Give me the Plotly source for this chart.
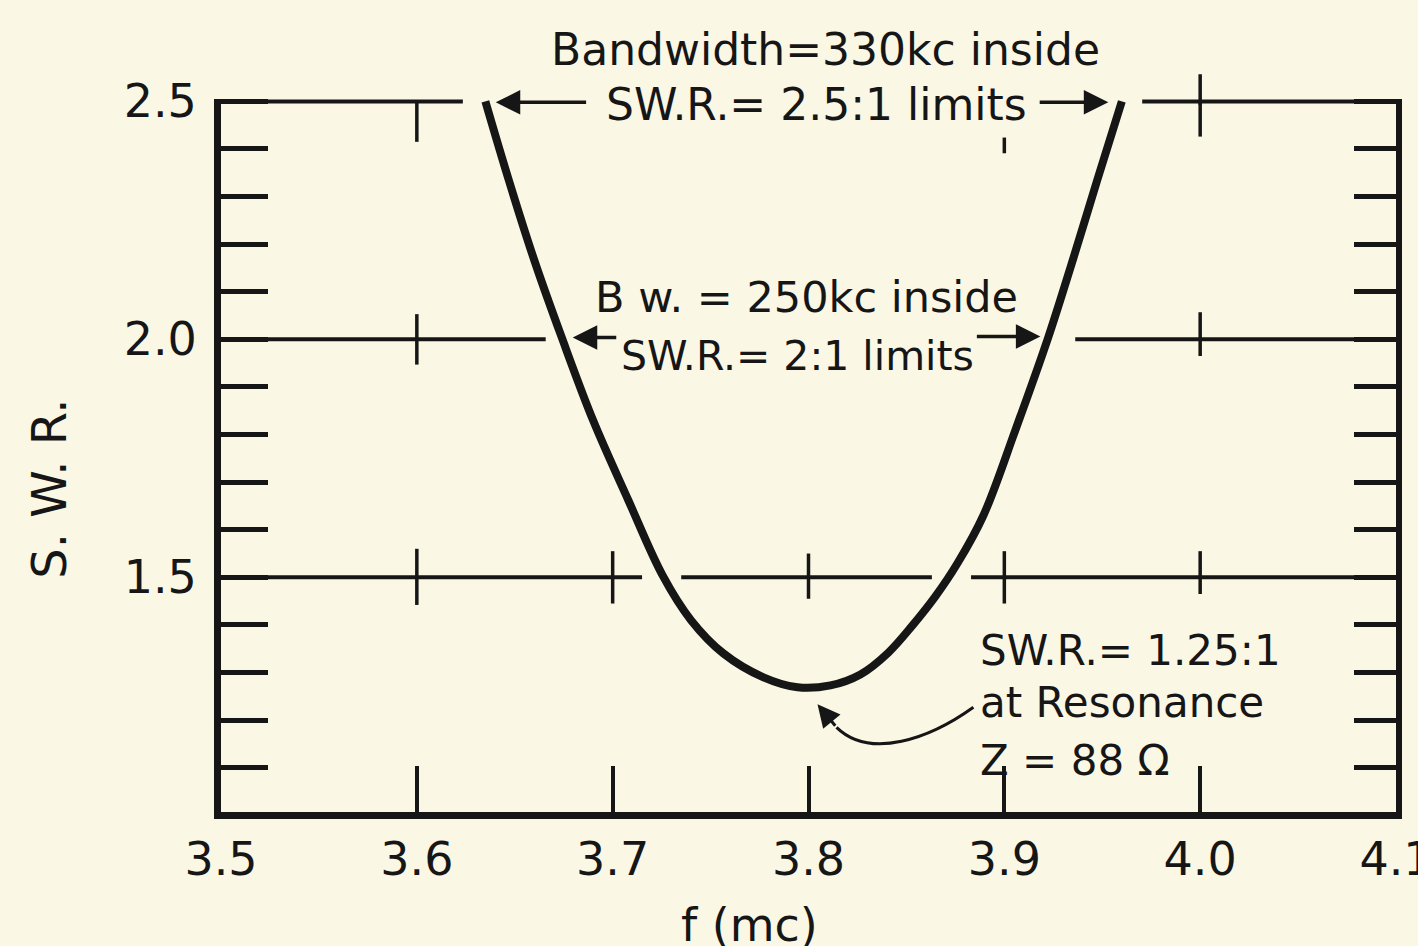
import plotly.graph_objects as go

# ---- data ----
freq_mc = [3.635, 3.647, 3.660, 3.674, 3.690, 3.708, 3.7255, 3.740, 3.7566, 3.777, 3.7944,
           3.8112, 3.8265, 3.8408, 3.8531, 3.8648, 3.876, 3.8893, 3.9056, 3.9224, 3.9352,
           3.9474, 3.960]
swr = [2.50, 2.334, 2.166, 2.004, 1.830, 1.662, 1.504, 1.410, 1.340, 1.290, 1.269,
       1.273, 1.296, 1.342, 1.399, 1.460, 1.529, 1.630, 1.809, 2.004, 2.170,
       2.334, 2.50]

x_tick_vals = [3.5, 3.6, 3.7, 3.8, 3.9, 4.0, 4.1]
x_tick_text = ["3.5", "3.6", "3.7", "3.8", "3.9", "4.0", "4.1"]
y_tick_vals = [1.0, 1.1, 1.2, 1.3, 1.4, 1.5, 1.6, 1.7, 1.8, 1.9,
               2.0, 2.1, 2.2, 2.3, 2.4, 2.5]
y_tick_text = ["1.0", "", "", "", "", "1.5", "", "", "", "",
               "2.0", "", "", "", "", "2.5"]

INK = "#161616"
PAPER = "#fbf7e5"
FONT = "DejaVu Sans"

fig = go.Figure()
fig.add_trace(go.Scatter(x=freq_mc, y=swr, mode="lines",
                         line=dict(color=INK, width=8, shape="spline", smoothing=1.0),
                         hoverinfo="skip", showlegend=False))
# empty trace to register the right-hand axis
fig.add_trace(go.Scatter(x=[], y=[], yaxis="y2", showlegend=False, hoverinfo="skip"))

shapes = []
# horizontal grid lines, broken where curve / lettering cross them
grid_segments = [
    (2.5, 3.5056, 3.6235), (2.5, 3.9704, 4.1),
    (2.0, 3.5, 3.6658), (2.0, 3.9362, 4.1),
    (1.5, 3.5, 3.7150), (1.5, 3.7350, 3.8630), (1.5, 3.8830, 4.1),
]
for yv, x0, x1 in grid_segments:
    shapes.append(dict(type="line", xref="x", yref="y", x0=x0, x1=x1, y0=yv, y1=yv,
                       line=dict(color=INK, width=4), layer="below"))
# small cross ticks on the grid lines (x, y, up, down)
cross_ticks = [
    (3.6, 2.5, 0.0, 0.085), (4.0, 2.5, 0.0, 0.074), (3.9, 2.5, -0.076, 0.109),
    (3.6, 2.0, 0.053, 0.053), (4.0, 2.0, 0.057, 0.035),
    (3.6, 1.5, 0.06, 0.058), (3.7, 1.5, 0.055, 0.055), (3.8, 1.5, 0.05, 0.045),
    (3.9, 1.5, 0.055, 0.055), (4.0, 1.5, 0.055, 0.035),
]
for xv, yv, up, dn in cross_ticks:
    shapes.append(dict(type="line", xref="x", yref="y", x0=xv, x1=xv, y0=yv - dn, y1=yv + up,
                       line=dict(color=INK, width=3.5), layer="below"))
# curved leader to the resonance point
shapes.append(dict(type="path", xref="x", yref="y",
                   path="M 3.8842 1.2269 C 3.8622 1.1618, 3.8316 1.1155, 3.8143 1.1849",
                   line=dict(color=INK, width=3)))

annotations = []
def txt(text, x, y, xanchor="center", yref="y", size=44):
    annotations.append(dict(text=text, x=x, y=y, xref="x", yref=yref, showarrow=False,
                            xanchor=xanchor, yanchor="middle",
                            font=dict(family=FONT, size=size, color=INK)))

txt("Bandwidth=330kc inside", 3.8087, 1.069, yref="paper")
txt("SW.R.= 2.5:1 limits", 3.8041, 2.494)
txt("B w. = 250kc inside", 3.7990, 2.090, size=43)
txt("SW.R.= 2:1 limits", 3.7945, 1.966, size=41)
txt("SW.R.= 1.25:1", 3.8867, 1.347, xanchor="left", size=42)
txt("at Resonance", 3.8867, 1.237, xanchor="left", size=42)
txt("Z = 88 Ω", 3.8867, 1.116, xanchor="left", size=42)

def arrow(x_tip, y_tip, x_tail, y_tail, head=2, size=1.4, width=3.5):
    annotations.append(dict(text="", x=x_tip, y=y_tip, ax=x_tail, ay=y_tail,
                            xref="x", yref="y", axref="x", ayref="y",
                            showarrow=True, arrowhead=head, arrowsize=size,
                            arrowwidth=width, arrowcolor=INK, standoff=0))

arrow(3.6403, 2.498, 3.6872, 2.498)
arrow(3.9531, 2.498, 3.9173, 2.498)
arrow(3.6796, 2.004, 3.7026, 2.004)
arrow(3.9184, 2.006, 3.8852, 2.006)
arrow(3.8046, 1.2332, 3.8143, 1.1849, size=1.5, width=3)
# upper part of the 4.0 tick on the top line (outside plot area)
arrow(4.0, 2.557, 4.0, 2.49, head=0, width=3.5)

# axis titles
annotations.append(dict(text="S. W. R.", x=-0.146, y=1.687, xref="paper", yref="y",
                        textangle=-90, showarrow=False, xanchor="center", yanchor="middle",
                        font=dict(family=FONT, size=48, color=INK)))
annotations.append(dict(text="f (mc)", x=3.770, y=-0.158, xref="x", yref="paper",
                        showarrow=False, xanchor="center", yanchor="middle",
                        font=dict(family=FONT, size=46, color=INK)))

fig.update_layout(
    width=1418, height=946,
    template="none",
    paper_bgcolor=PAPER, plot_bgcolor=PAPER,
    margin=dict(l=221, r=22, t=99, b=134),
    showlegend=False,
    shapes=shapes,
    annotations=annotations,
    xaxis=dict(range=[3.5, 4.1], tickvals=x_tick_vals, ticktext=x_tick_text,
               ticks="inside", ticklen=46, tickwidth=4, tickcolor=INK,
               showline=True, linewidth=7, linecolor=INK, mirror=False,
               showgrid=False, zeroline=False, automargin=False,
               ticklabelstandoff=1, ticklabeloverflow="allow",
               tickfont=dict(family=FONT, size=46, color=INK)),
    yaxis=dict(range=[1.007, 2.505], tickvals=y_tick_vals, ticktext=y_tick_text,
               ticks="inside", ticklen=47, tickwidth=4.5, tickcolor=INK,
               showline=True, linewidth=7, linecolor=INK, mirror=False,
               showgrid=False, zeroline=False, automargin=False,
               ticklabelstandoff=8, ticklabeloverflow="allow",
               tickfont=dict(family=FONT, size=46, color=INK)),
    yaxis2=dict(range=[1.007, 2.505], overlaying="y", side="right", anchor="x",
                tickvals=y_tick_vals, showticklabels=False,
                ticks="inside", ticklen=42, tickwidth=4.5, tickcolor=INK,
                showline=True, linewidth=6, linecolor=INK,
                showgrid=False, zeroline=False, automargin=False),
)

fig.write_html("out.html", config={"displayModeBar": False},
               post_script="document.body.style.margin='0px';")
